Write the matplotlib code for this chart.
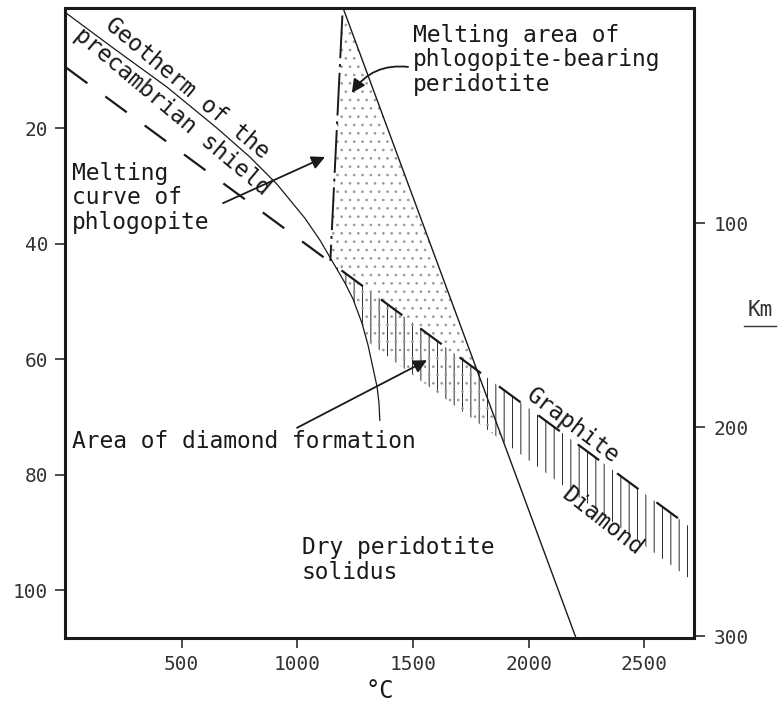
import matplotlib
matplotlib.use("Agg")
import matplotlib.pyplot as plt
import numpy as np

# geotherm of the precambrian shield (T in °C, P in kbar)
geotherm_T = [5, 200, 437, 653, 795, 912, 1033, 1098, 1206, 1241, 1280, 1306, 1345, 1353, 1357]
geotherm_P = [0.2, 6.0, 12.9, 20.0, 25.0, 29.7, 35.6, 39.4, 46.8, 49.6, 53.8, 57.6, 64.8, 67.5, 70.6]

# graphite / diamond equilibrium
gd_T = [0, 2715]
gd_P = [9.5, 89.6]

# melting curve of phlogopite
phl_T = [1195, 1143]
phl_P = [0.5, 43.0]

# dry peridotite solidus
sol_T = [1198, 2205]
sol_P = [-0.8, 108.3]

# thickness of the hatched diamond band below the boundary (kbar)
band_depth = 9.0

p_ticks = [20, 40, 60, 80, 100]
t_ticks = [500, 1000, 1500, 2000, 2500]
km_labels = ["100", "200", "300"]
km_at_p = [36.5, 71.8, 108.0]

plt.rcParams["font.family"] = ["DejaVu Sans Mono"]
plt.rcParams["hatch.linewidth"] = 0.7
INK = "#1a1a1a"
FS = 16.5

fig = plt.figure(figsize=(7.79, 7.07), dpi=100)
ax = fig.add_axes([65 / 779, 1 - 638 / 707, 629 / 779, 630 / 707])
ax.set_xlim(-4, 2715)
ax.set_ylim(108.3, -0.8)

# hatched diamond band: below graphite/diamond line, right of geotherm
T = np.linspace(gd_T[0], gd_T[1], 1500)
upper = np.interp(T, gd_T, gd_P)
geo_at_T = np.interp(T, geotherm_T, geotherm_P, left=-np.inf, right=np.inf)
lower = np.minimum(upper + band_depth, geo_at_T)
ax.fill_between(T, upper, lower, where=lower > upper, interpolate=True,
                facecolor="none", edgecolor="#2a2a2a", linewidth=0, hatch="||")

# stippled melting area between phlogopite curve and solidus
P = np.linspace(sol_P[0], 100, 1500)
left_phl = np.interp(P, phl_P, phl_T, left=phl_T[0], right=-np.inf)
left_geo = np.interp(P, geotherm_P, geotherm_T, left=-np.inf, right=geotherm_T[-1])
slope = (gd_P[1] - gd_P[0]) / (gd_T[1] - gd_T[0])
left_band = gd_T[0] + (P - band_depth - gd_P[0]) / slope
left = np.maximum(np.maximum(left_phl, left_geo), left_band)
right = np.interp(P, sol_P, sol_T)
ax.fill_betweenx(P, left, right, where=right > left, interpolate=True,
                 facecolor="none", edgecolor="#9a9a9a", linewidth=0, hatch="..")

# curves
ax.plot(geotherm_T, geotherm_P, color=INK, lw=0.9)
ax.plot(gd_T, gd_P, color=INK, lw=1.6, dashes=(12, 10))
ax.plot(phl_T, phl_P, color=INK, lw=1.4, dashes=(22, 3, 1.5, 3))
ax.plot(sol_T, sol_P, color=INK, lw=1.0)

# labels
ax.text(1500, 8.2, "Melting area of\nphlogopite-bearing\nperidotite",
        ha="left", va="center", fontsize=FS, color=INK, linespacing=1.1)
ax.text(26, 32.1, "Melting\ncurve of\nphlogopite",
        ha="left", va="center", fontsize=FS, color=INK, linespacing=1.1)
ax.text(26, 74.2, "Area of diamond formation",
        ha="left", va="center", fontsize=FS, color=INK)
ax.text(1020, 94.8, "Dry peridotite\nsolidus",
        ha="left", va="center", fontsize=FS, color=INK, linespacing=1.1)
ax.text(523, 13.1, "Geotherm of the", rotation=-40, rotation_mode="anchor",
        ha="center", va="center", fontsize=FS, color=INK)
ax.text(458, 17.1, "precambrian shield", rotation=-40, rotation_mode="anchor",
        ha="center", va="center", fontsize=FS, color=INK)
ax.text(2192, 71.6, "Graphite", rotation=-37, rotation_mode="anchor",
        ha="center", va="center", fontsize=FS, color=INK)
ax.text(2317, 88.2, "Diamond", rotation=-38, rotation_mode="anchor",
        ha="center", va="center", fontsize=FS, color=INK)

arrow = dict(arrowstyle="-|>", color=INK, lw=1.3, mutation_scale=20,
             shrinkA=0, shrinkB=0)
ax.annotate("", xy=(1236, 13.9), xytext=(1479, 9.4),
            arrowprops=dict(arrow, connectionstyle="arc3,rad=0.3"))
ax.annotate("", xy=(1120, 25.0), xytext=(679, 33.0), arrowprops=arrow)
ax.annotate("", xy=(1561, 60.2), xytext=(999, 71.9), arrowprops=arrow)

# axes
for s in ax.spines.values():
    s.set_linewidth(2.2)
    s.set_color(INK)
ax.set_xticks(t_ticks)
ax.set_yticks(p_ticks)
ax.tick_params(direction="out", length=7, width=1.1, colors=INK,
               labelcolor="#333333", labelsize=14, pad=5)
ax.set_xlabel("°C", fontsize=17, color=INK, labelpad=4)

ax2 = ax.twinx()
ax2.set_ylim(ax.get_ylim())
ax2.set_yticks(km_at_p)
ax2.set_yticklabels(km_labels)
ax2.tick_params(direction="out", length=8, width=1.1, colors=INK,
                labelcolor="#333333", labelsize=14, pad=6)
for s in ax2.spines.values():
    s.set_visible(False)
ax.text(1.105, 51.5, "Km", transform=ax.get_yaxis_transform(),
        ha="center", va="center", fontsize=15, color="#333333")
ax.plot([1.08, 1.13], [54.3, 54.3], transform=ax.get_yaxis_transform(),
        color="#333333", lw=1.0, clip_on=False)

fig.savefig("out.png", dpi=100, facecolor="white")
